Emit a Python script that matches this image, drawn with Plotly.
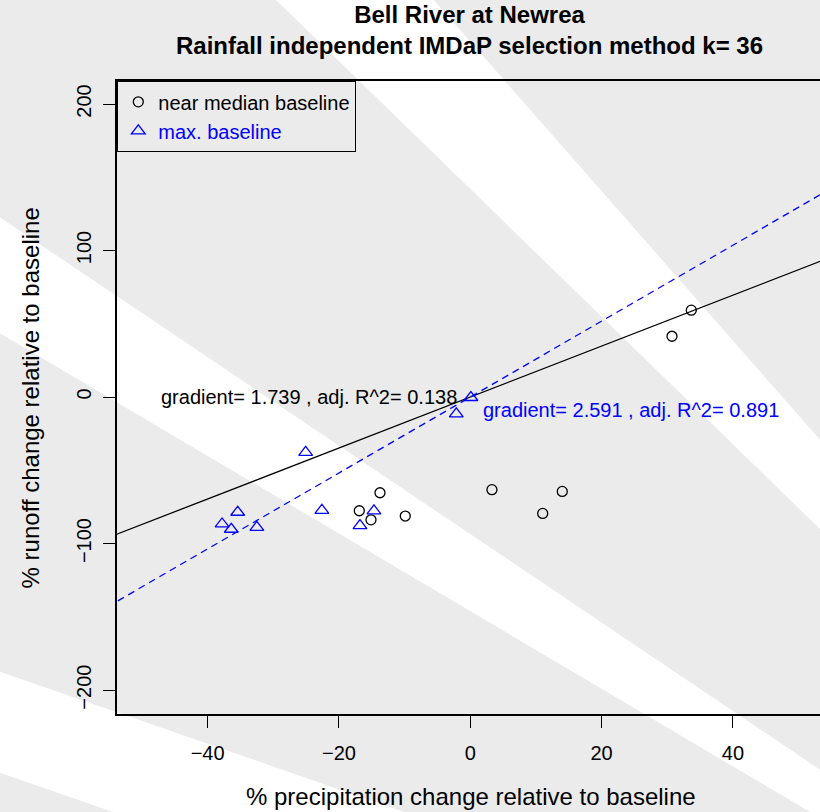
import plotly.graph_objects as go

# ---------------- data ----------------
median_x = [33.66, 30.72, -13.75, -16.9, -15.12, -9.9, 3.3, 11.03, 14.01]
median_y = [59.3, 41.5, -65.3, -77.6, -83.8, -81.2, -63.2, -79.4, -64.4]

max_x = [0.1, -2.13, -25.07, -35.42, -37.8, -36.4, -32.5, -22.6, -14.67, -16.8]
max_y = [-0.3, -11.5, -37.7, -78.6, -86.6, -90.2, -88.9, -77.3, -77.7, -87.7]

slope_median = 1.739
r2_median = 0.138
slope_max = 2.591
r2_max = 0.891

x_ticks = [-40, -20, 0, 20, 40]
y_ticks = [-200, -100, 0, 100, 200]

title_line1 = "Bell River at Newrea"
title_line2 = "Rainfall independent IMDaP selection method k= 36"
x_title = "% precipitation change relative to baseline"
y_title = "% runoff change relative to baseline"

FONT = "Liberation Sans, Arial, Helvetica, sans-serif"
BLUE = "#0000ff"
GRAY = "#ebebeb"

# plot area in pixels (for background stripes)
L, R, T, B = 117, 820, 81, 714
W, H = R - L, B - T


def px2paper(pts):
    return [((x - L) / W, (B - y) / H) for x, y in pts]


def path_from(pts):
    p = px2paper(pts)
    return "M " + " L ".join(f"{x:.4f},{y:.4f}" for x, y in p) + " Z"


stripes = [
    [(274, -2), (432, -2), (822, 442), (822, 531)],
    [(-2, 216), (822, 771), (822, 819), (-2, 332)],
    [(-2, 671), (410, 814), (119, 814), (-2, 772)],
]

fig = go.Figure()

xr = [-60, 60]
fig.add_trace(go.Scatter(
    x=xr, y=[slope_median * v for v in xr], mode="lines",
    line=dict(color="black", width=1.3), showlegend=False, hoverinfo="skip"))
fig.add_trace(go.Scatter(
    x=xr, y=[slope_max * v for v in xr], mode="lines",
    line=dict(color=BLUE, width=1.3, dash="7px,5px"), showlegend=False, hoverinfo="skip"))

fig.add_trace(go.Scatter(
    x=median_x, y=median_y, mode="markers", name="near median baseline",
    marker=dict(symbol="circle-open", size=10, color="black", line=dict(width=1.3, color="black"))))
fig.add_trace(go.Scatter(
    x=max_x, y=max_y, mode="markers",
    name=f"<span style='color:{BLUE}'>max. baseline</span>",
    marker=dict(symbol="triangle-up-open", size=12, color=BLUE, line=dict(width=1.3, color=BLUE))))

shapes = [dict(type="path", path=path_from(s), xref="paper", yref="paper",
               fillcolor="white", line=dict(width=0), layer="below") for s in stripes]

annotations = [
    dict(text=f"<b>{title_line1}<br>{title_line2}</b>", x=0.502, y=(B - 30.5) / H,
         xref="paper", yref="paper", showarrow=False,
         font=dict(size=24, color="black", family=FONT), xanchor="center", yanchor="middle"),
    dict(text=x_title, x=0.504, y=(B - 796.5) / H, xref="paper", yref="paper",
         showarrow=False, font=dict(size=24, color="black", family=FONT), xanchor="center", yanchor="middle"),
    dict(text=y_title, x=(30.9 - L) / W, y=0.5, xref="paper", yref="paper", textangle=-90,
         showarrow=False, font=dict(size=24, color="black", family=FONT), xanchor="center", yanchor="middle"),
    dict(text=f"gradient= {slope_median} , adj. R^2= {r2_median}", x=0, y=0, xref="x", yref="y",
         showarrow=False, font=dict(size=20, color="black", family=FONT), xanchor="right", yanchor="middle",
         xshift=-11),
    dict(text=f"gradient= {slope_max} , adj. R^2= {r2_max}", x=1.6, y=-8.9, xref="x", yref="y",
         showarrow=False, font=dict(size=20, color=BLUE, family=FONT), xanchor="left", yanchor="middle"),
]

fig.update_layout(
    width=820, height=812,
    margin=dict(l=L, r=0, t=T, b=812 - B, pad=0),
    paper_bgcolor=GRAY, plot_bgcolor="rgba(0,0,0,0)",
    font=dict(family=FONT, size=20, color="black"),
    shapes=shapes, annotations=annotations,
    showlegend=True,
    legend=dict(x=0, y=1, xanchor="left", yanchor="top", bgcolor="rgba(0,0,0,0)",
                bordercolor="black", borderwidth=1.3, font=dict(size=20, color="black", family=FONT),
                tracegroupgap=0),
    xaxis=dict(range=[-53.8, 53.26], tickvals=x_ticks, ticks="outside", ticklen=12, tickwidth=1.3,
               tickcolor="black", showline=True, linecolor="black", linewidth=1.5, mirror=True,
               showgrid=False, zeroline=False, tickfont=dict(size=20, family=FONT, color="black"),
               ticklabelstandoff=8),
    yaxis=dict(range=[-216.3, 215.7], tickvals=y_ticks, ticks="outside", ticklen=12, tickwidth=1.3,
               tickcolor="black", showline=True, linecolor="black", linewidth=1.5, mirror=False,
               showgrid=False, zeroline=False, tickangle=-90,
               tickfont=dict(size=20, family=FONT, color="black"), ticklabelstandoff=4),
)

fig.write_html("out.html")
